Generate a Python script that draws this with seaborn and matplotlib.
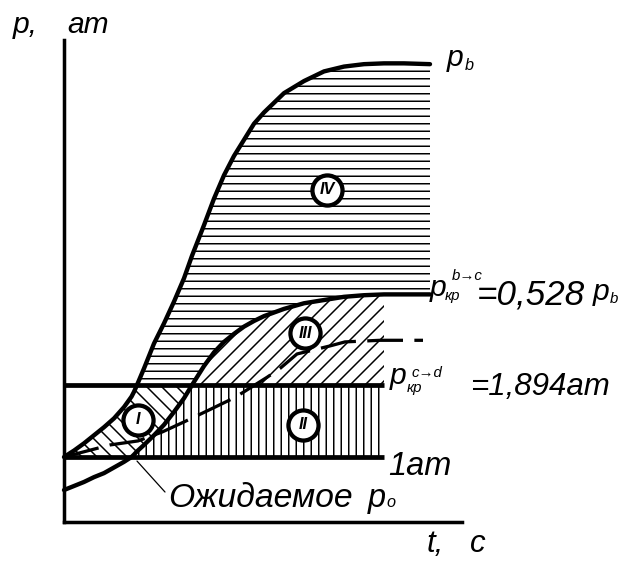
import matplotlib
matplotlib.use("Agg")
import matplotlib.pyplot as plt
from matplotlib.patches import Rectangle
import seaborn as sns

# Time grid shared by the two pressure curves, s
t = [0, 1, 2, 3, 4, 5, 6, 6.75, 7, 7.3, 8, 9, 10, 11, 12, 12.8, 14, 15, 16,
     17, 18, 19, 20, 22, 24, 26, 28, 30, 32, 34, 36.6]
# Upstream pressure p_b, at
p_b = [1.00, 1.08, 1.17, 1.27, 1.37, 1.48, 1.62, 1.75, 1.81, 1.894, 2.10,
       2.41, 2.66, 2.93, 3.22, 3.50, 3.88, 4.21, 4.50, 4.74, 4.94, 5.14, 5.28,
       5.52, 5.67, 5.79, 5.85, 5.88, 5.89, 5.89, 5.88]
# Critical pressure of the b->c transition (0.528 p_b), at
p_kr_bc = [0.59, 0.64, 0.69, 0.75, 0.80, 0.87, 0.94, 1.00, 1.03, 1.07, 1.15,
           1.27, 1.40, 1.56, 1.73, 1.894, 2.13, 2.30, 2.43, 2.53, 2.62, 2.69,
           2.75, 2.84, 2.91, 2.95, 2.99, 3.01, 3.02, 3.02, 3.02]

# Expected pressure p_o (dashed curve)
t_p0 = [0, 4.6, 7.4, 9.8, 11.9, 14.6, 17.1, 20.3, 21.6, 23.3, 26.6, 28.1,
        31.6, 35.9]
p_0 = [1.0, 1.15, 1.20, 1.31, 1.43, 1.59, 1.74, 1.99, 2.10, 2.28, 2.38, 2.43,
       2.45, 2.45]

# Constant levels, at
p_atm = 1.0
p_kr_cd = 1.894
t_zone_end = 32.0      # right edge of zones II and III
t_axis_level = 0.19    # height of the time axis
p_axis_top = 6.18
t_axis_end = 39.8

# Zone markers
zone_names = ["I", "II", "III", "IV"]
zone_t = [7.4, 23.9, 24.1, 26.3]
zone_p = [1.46, 1.40, 2.54, 4.32]

sns.set_theme(style="white")
plt.rcParams["font.family"] = ["Liberation Sans", "DejaVu Sans"]
plt.rcParams["font.style"] = "italic"
plt.rcParams["text.color"] = "black"
plt.rcParams["hatch.linewidth"] = 1.2
plt.rcParams["hatch.color"] = "black"

DPI = 90
fig = plt.figure(figsize=(627 / DPI, 562 / DPI), dpi=DPI, facecolor="white")
ax = fig.add_axes([0, 0, 1, 1])
ax.set_facecolor("white")
ax.set_xlim(-6.4, 56.3)
ax.set_ylim(-0.304, 6.677)


def hatched_zone(lower, upper, hatch, x0, y0, x1, y1):
    poly = ax.fill_between(t, lower, upper, facecolor="none",
                           edgecolor="black", hatch=hatch, linewidth=0,
                           zorder=1)
    clip = Rectangle((x0, y0), x1 - x0, y1 - y0, transform=ax.transData)
    poly.set_clip_path(clip)


zero = [0.0] * len(t)
# Zone I: between the two curves, 1 at .. p_kr^(c->d)
hatched_zone(p_kr_bc, p_b, "\\\\", 0, p_atm, t[-1], p_kr_cd)
# Zone IV: between the two curves above p_kr^(c->d)
hatched_zone(p_kr_bc, p_b, "--", 0, p_kr_cd, t[-1], 10)
# Zone III: under p_kr^(b->c), above p_kr^(c->d)
hatched_zone(zero, p_kr_bc, "//", 0, p_kr_cd, t_zone_end, 10)
# Zone II: under p_kr^(b->c), between 1 at and p_kr^(c->d)
hatched_zone(zero, p_kr_bc, "||", 0, p_atm, t_zone_end, p_kr_cd)

# Constant pressure levels
ax.hlines([p_atm, p_kr_cd], 0, t_zone_end, color="black", linewidth=3.8,
          zorder=3)

# Pressure curves
sns.lineplot(x=t, y=p_b, ax=ax, color="black", linewidth=3.5, sort=False,
             estimator=None, zorder=3)
sns.lineplot(x=t, y=p_kr_bc, ax=ax, color="black", linewidth=3.5, sort=False,
             estimator=None, zorder=3)
sns.lineplot(x=t_p0, y=p_0, ax=ax, color="black", linewidth=2.6, sort=False,
             estimator=None, linestyle=(0, (11, 3.5)), zorder=3)

# Circled zone numbers
sns.scatterplot(x=zone_t, y=zone_p, ax=ax, s=580, color="white",
                edgecolor="black", linewidth=3.4, zorder=5, legend=False)
for name, tx, px in zip(zone_names, zone_t, zone_p):
    ax.text(tx, px, name, ha="center", va="center", fontsize=13,
            fontweight="bold", zorder=6)

# Axes drawn as spines
for side in ("top", "right"):
    ax.spines[side].set_visible(False)
ax.spines["left"].set_position(("data", 0))
ax.spines["bottom"].set_position(("data", t_axis_level))
ax.spines["left"].set_bounds(t_axis_level, p_axis_top)
ax.spines["bottom"].set_bounds(0, t_axis_end)
for side in ("left", "bottom"):
    ax.spines[side].set_color("black")
    ax.spines[side].set_linewidth(2.8)
ax.set_xticks([])
ax.set_yticks([])


def put(tx, py, s, size):
    ax.text(tx, py, s, fontsize=size, ha="left", va="baseline", zorder=7)


# Axis titles
put(-5.1, 6.27, "p,", 24)
put(0.3, 6.27, "am", 24)
put(36.3, -0.18, "t,", 25)
put(40.6, -0.18, "c", 25)

# p_b label
put(38.3, 5.86, "p", 24)
put(40.1, 5.81, "b", 13)

# p_kr^(b->c) = 0,528 p_b
put(36.6, 3.00, "p", 24)
put(38.8, 3.20, "b\u2192c", 12)
put(38.1, 2.95, "кр", 12)
put(41.3, 2.89, "=0,528", 28)
put(52.9, 2.95, "p", 24)
put(54.6, 2.91, "b", 12)

# p_kr^(c->d) = 1,894 at
put(32.6, 1.91, "p", 24)
put(34.8, 2.00, "c\u2192d", 12)
put(34.3, 1.81, "кр", 12)
put(40.6, 1.77, "=1,894am", 25)

# Atmospheric level
put(32.4, 0.776, "1am", 26)

# Expected pressure p_o with leader line
ax.annotate("Ожидаемое", xy=(7.3, 0.95), xytext=(10.4, 0.38),
            fontsize=27, ha="left", va="baseline", zorder=7,
            arrowprops=dict(arrowstyle="-", color="black", lw=1.0,
                            shrinkA=0, shrinkB=0, relpos=(0, 0.6)))
put(30.4, 0.38, "p", 26)
put(32.2, 0.38, "o", 13)

fig.savefig("out.png", dpi=DPI, facecolor="white")
